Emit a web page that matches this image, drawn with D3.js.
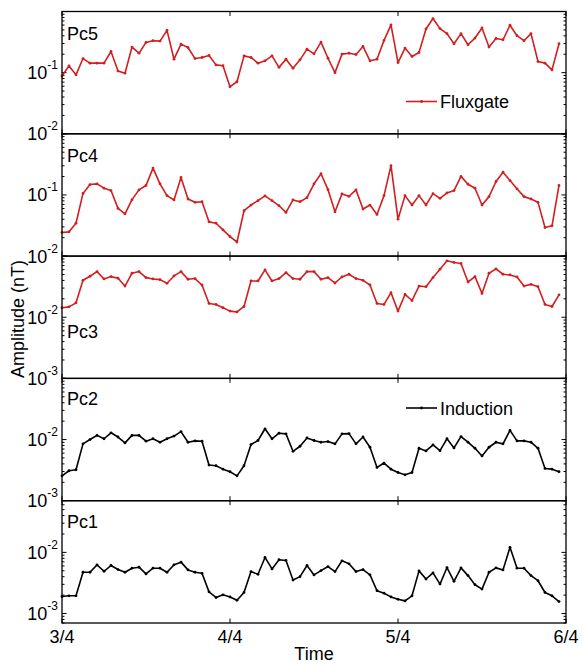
<!DOCTYPE html>
<html><head><meta charset="utf-8">
<script src="https://cdn.jsdelivr.net/npm/d3@7"></script>
<style>body{margin:0;background:#fff} text{font-family:Arial,"Liberation Sans",sans-serif;fill:#000}</style>
</head><body><svg id="c" width="583" height="665"></svg>
<script>
// ---- data ----
const dateLabels = ["3/4","4/4","5/4","6/4"];
const dateTickIndex = [0,24,48,72];
const panelNames = ["Pc5","Pc4","Pc3","Pc2","Pc1"];
const seriesNames = ["Fluxgate","Induction"];

const pc5 = [0.088,0.129,0.092,0.170,0.143,0.143,0.143,0.222,0.106,0.098,0.262,0.208,0.312,0.333,0.328,0.492,0.166,0.293,0.258,0.170,0.177,0.191,0.134,0.130,
0.059,0.071,0.188,0.177,0.143,0.156,0.188,0.122,0.166,0.118,0.162,0.242,0.203,0.316,0.172,0.100,0.201,0.208,0.198,0.268,0.156,0.166,0.337,0.603,
0.146,0.252,0.184,0.214,0.518,0.767,0.525,0.434,0.297,0.434,0.286,0.368,0.538,0.262,0.363,0.345,0.596,0.402,0.333,0.434,0.152,0.143,0.111,0.297];

const pc4 = [0.0243,0.0249,0.0345,0.106,0.148,0.152,0.129,0.118,0.0603,0.0492,0.0838,0.121,0.143,0.275,0.152,0.0975,0.0828,0.193,0.0859,0.0757,0.0776,0.0363,0.0345,0.0268,
0.0208,0.0170,0.0552,0.0684,0.0807,0.0963,0.0807,0.0667,0.0518,0.0828,0.0776,0.0904,0.152,0.222,0.122,0.0531,0.104,0.0951,0.121,0.0588,0.0684,0.0480,0.0975,0.301,
0.0402,0.0975,0.0684,0.0975,0.0684,0.105,0.0881,0.108,0.118,0.201,0.150,0.129,0.0684,0.0939,0.166,0.236,0.172,0.126,0.0939,0.0859,0.0757,0.0293,0.0313,0.143];

const pc3 = [0.0143,0.0148,0.0172,0.0402,0.0468,0.0558,0.0423,0.0462,0.0434,0.0324,0.0525,0.0558,0.0445,0.0423,0.0412,0.0359,0.0474,0.0558,0.0418,0.0429,0.0337,0.0168,0.0162,0.0143,
0.0126,0.0122,0.0150,0.0392,0.0392,0.0596,0.0392,0.0429,0.0538,0.0429,0.0418,0.0558,0.0558,0.0418,0.0445,0.0363,0.0456,0.0505,0.0429,0.0402,0.0337,0.0168,0.0162,0.0252,
0.0126,0.0236,0.0188,0.0324,0.0316,0.0445,0.0611,0.0838,0.0787,0.0757,0.0377,0.0462,0.0245,0.0525,0.0618,0.0505,0.0492,0.0456,0.0324,0.0345,0.0316,0.0162,0.0150,0.0233];

const pc2 = [0.00255,0.00309,0.00321,0.00850,0.0100,0.0117,0.0103,0.0129,0.0110,0.00882,0.0117,0.0117,0.00940,0.0103,0.00904,0.0103,0.0114,0.0135,0.00904,0.00951,0.00940,0.00383,0.00373,0.00328,
0.00298,0.00255,0.00373,0.00828,0.00964,0.0150,0.0103,0.0127,0.0124,0.00643,0.00777,0.0106,0.00964,0.00904,0.00928,0.00850,0.0124,0.0125,0.00850,0.0110,0.00748,0.00350,0.00413,0.00328,
0.00289,0.00265,0.00289,0.00720,0.00651,0.00817,0.00659,0.0103,0.00730,0.0112,0.00904,0.00720,0.00539,0.00748,0.00904,0.00850,0.0141,0.00951,0.00951,0.00904,0.00720,0.00337,0.00328,0.00298];

const pc1 = [0.00190,0.00195,0.00195,0.00473,0.00473,0.00625,0.00491,0.00610,0.00524,0.00473,0.00551,0.00573,0.00444,0.00551,0.00551,0.00473,0.00625,0.00692,0.00517,0.00473,0.00455,0.00226,0.00183,0.00202,
0.00187,0.00165,0.00221,0.00485,0.00438,0.00826,0.00537,0.00757,0.00738,0.00353,0.00401,0.00610,0.00428,0.00504,0.00587,0.00485,0.00728,0.00650,0.00485,0.00524,0.00428,0.00236,0.00215,0.00187,
0.00171,0.00161,0.00195,0.00498,0.00367,0.00461,0.00303,0.00565,0.00336,0.00558,0.00417,0.00296,0.00251,0.00473,0.00558,0.00517,0.0121,0.00551,0.00551,0.00417,0.00344,0.00221,0.00195,0.00157];

const panelSeries = [pc5, pc4, pc3, pc2, pc1];
const panelDomains = [[0.01,1],[0.01,1],[0.001,0.1],[0.001,0.1],[0.0007,0.07]];
const panelSensor = [0,0,0,1,1]; // 0 = Fluxgate, 1 = Induction

// ---- layout ----
const svg = d3.select("#c");
const L = 62, R = 566, T = 11.5, B = 623;
const ph = (B - T) / 5;
const colors = ["#d21e1e", "#000000"];
const x = d3.scaleLinear().domain([0, 72]).range([L, R]);
const nameBaseline = [28.5, 28.5, 82, 27, 27.5];

panelSeries.forEach((data, p) => {
  const top = T + p * ph, bot = top + ph;
  const [lo, hi] = panelDomains[p];
  const y = d3.scaleLog().domain([lo, hi]).range([bot, top]);
  const g = svg.append("g");
  // minor/major y ticks
  const ticks = [];
  for (let k = Math.floor(Math.log10(lo)); k <= Math.ceil(Math.log10(hi)); k++) {
    for (let m = 1; m <= 9; m++) {
      const v = m * Math.pow(10, k);
      if (v >= lo * 0.999 && v <= hi * 1.001) ticks.push({v, major: m === 1, k});
    }
  }
  ticks.forEach(t => {
    const yy = y(t.v), len = t.major ? 4.5 : 2.5;
    g.append("line").attr("x1", L).attr("x2", L + len).attr("y1", yy).attr("y2", yy).attr("stroke", "#000").attr("stroke-width", 1);
    g.append("line").attr("x1", R).attr("x2", R - len).attr("y1", yy).attr("y2", yy).attr("stroke", "#000").attr("stroke-width", 1);
    if (t.major && Math.abs(yy - top) > 2) {
      const tx = g.append("text").attr("x", 58).attr("y", yy + 6.5).attr("text-anchor", "end").attr("font-size", 18);
      tx.append("tspan").text("10");
      tx.append("tspan").attr("dy", -10).attr("font-size", 12).text(String(t.k));
    }
  });
  // x ticks top/bottom
  dateTickIndex.forEach(i => {
    const xx = x(i);
    g.append("line").attr("x1", xx).attr("x2", xx).attr("y1", top).attr("y2", top + 4.5).attr("stroke", "#000");
    g.append("line").attr("x1", xx).attr("x2", xx).attr("y1", bot).attr("y2", bot - 4.5).attr("stroke", "#000");
  });
  // line
  const c = colors[panelSensor[p]];
  const line = d3.line().x((d, i) => x(i)).y(d => y(d));
  g.append("path").datum(data).attr("d", line).attr("fill", "none").attr("stroke", c).attr("stroke-width", 1.6).attr("stroke-linejoin", "round");
  g.selectAll("circle").data(data).join("circle").attr("cx", (d, i) => x(i)).attr("cy", d => y(d)).attr("r", 1.4).attr("fill", c);
  // frame
  g.append("rect").attr("x", L).attr("y", top).attr("width", R - L).attr("height", ph).attr("fill", "none").attr("stroke", "#000").attr("stroke-width", 1.3);
  // panel name
  g.append("text").attr("x", 67).attr("y", top + nameBaseline[p]).attr("font-size", 18).text(panelNames[p]);
});

// legends
[[0, 101.5], [1, 408]].forEach(([s, ly]) => {
  const c = colors[s];
  svg.append("line").attr("x1", 406).attr("x2", 437).attr("y1", ly).attr("y2", ly).attr("stroke", c).attr("stroke-width", 1.6);
  svg.append("circle").attr("cx", 421.5).attr("cy", ly).attr("r", 1.4).attr("fill", c);
  svg.append("text").attr("x", 440).attr("y", ly + 6.5).attr("font-size", 18).text(seriesNames[s]);
});

// x tick labels
dateTickIndex.forEach((i, j) => {
  svg.append("text").attr("x", x(i)).attr("y", 643).attr("text-anchor", "middle").attr("font-size", 18).text(dateLabels[j]);
});
svg.append("text").attr("x", (L + R) / 2).attr("y", 660).attr("text-anchor", "middle").attr("font-size", 18).text("Time");
svg.append("text").attr("transform", "translate(24,319) rotate(-90)").attr("text-anchor", "middle").attr("font-size", 18).text("Amplitude (nT)");
</script></body></html>
